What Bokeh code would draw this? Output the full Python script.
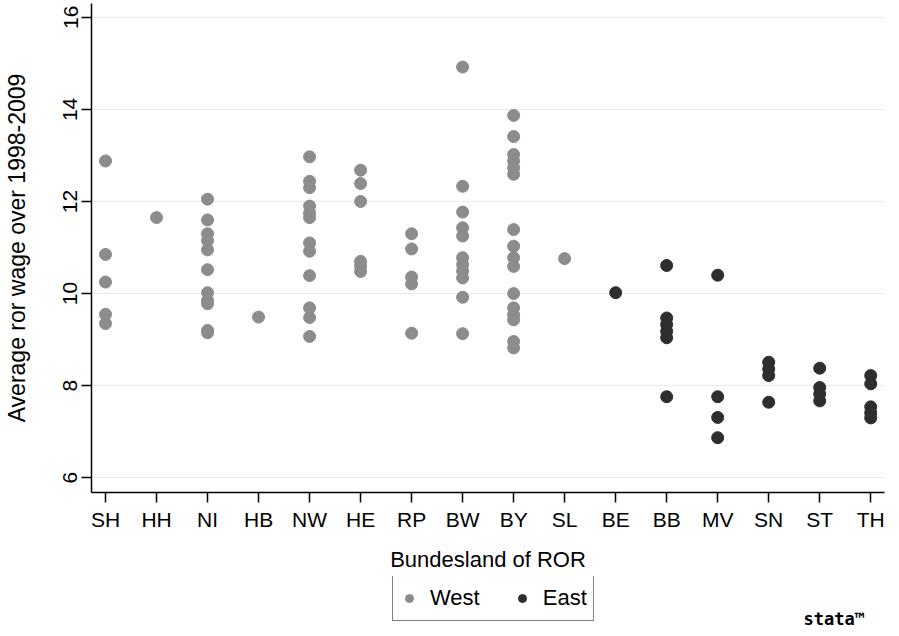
from bokeh.plotting import figure
from bokeh.models import (ColumnDataSource, Range1d, FixedTicker, Legend, LegendItem, Label)
from bokeh.layouts import column
from bokeh.embed import file_html
from bokeh.resources import INLINE

# ---- data ----
states = ["SH", "HH", "NI", "HB", "NW", "HE", "RP", "BW", "BY", "SL",
          "BE", "BB", "MV", "SN", "ST", "TH"]
west_states = ["SH", "HH", "NI", "HB", "NW", "HE", "RP", "BW", "BY", "SL"]
east_states = ["BE", "BB", "MV", "SN", "ST", "TH"]

sh = [12.88, 10.85, 10.25, 9.55, 9.35]
hh = [11.65]
ni = [12.05, 11.6, 11.3, 11.15, 10.95, 10.52, 10.02, 9.85, 9.78, 9.2, 9.15]
hb = [9.49]
nw = [12.97, 12.44, 12.3, 11.9, 11.75, 11.65, 11.1, 10.92, 10.39, 9.69, 9.48, 9.07]
he = [12.68, 12.39, 12.0, 10.7, 10.6, 10.48]
rp = [11.3, 10.97, 10.36, 10.21, 9.14]
bw = [14.92, 12.33, 11.77, 11.43, 11.25, 10.78, 10.63, 10.49, 10.34, 9.92, 9.13]
by = [13.87, 13.41, 13.02, 12.88, 12.73, 12.59, 11.39, 11.03, 10.78, 10.59,
      10.0, 9.69, 9.54, 9.43, 8.96, 8.82]
sl = [10.76]
be = [10.02]
bb = [10.61, 9.47, 9.33, 9.18, 9.04, 7.76]
mv = [10.40, 7.76, 7.31, 6.87]
sn = [8.51, 8.36, 8.22, 7.64]
st = [8.38, 7.96, 7.82, 7.67]
th = [8.22, 8.04, 7.54, 7.41, 7.30]

wages = {"SH": sh, "HH": hh, "NI": ni, "HB": hb, "NW": nw, "HE": he, "RP": rp,
         "BW": bw, "BY": by, "SL": sl, "BE": be, "BB": bb, "MV": mv, "SN": sn,
         "ST": st, "TH": th}

y_ticks = [6, 8, 10, 12, 14, 16]

WEST_COLOR = "#8c8c8c"
EAST_COLOR = "#2e2e2e"
FONT = "Liberation Sans"


def build(group):
    xs, ys = [], []
    for s in group:
        for v in wages[s]:
            xs.append(states.index(s) + 1)
            ys.append(v)
    return ColumnDataSource(dict(x=xs, y=ys))


west_src = build(west_states)
east_src = build(east_states)

# ---- main plot ----
p = figure(width=899, height=576, output_backend="svg", toolbar_location=None,
           title=None,
           x_range=Range1d(0.725, 16.27), y_range=Range1d(5.68, 16.3),
           min_border_left=91, min_border_right=15, min_border_top=3,
           min_border_bottom=84)
p.outline_line_color = None
p.background_fill_color = "white"
p.border_fill_color = "white"

p.scatter(x="x", y="y", source=west_src, size=12, marker="circle",
          fill_color=WEST_COLOR, line_color=WEST_COLOR)
p.scatter(x="x", y="y", source=east_src, size=12, marker="circle",
          fill_color=EAST_COLOR, line_color=EAST_COLOR)

xa = p.xaxis[0]
xa.ticker = FixedTicker(ticks=list(range(1, len(states) + 1)))
xa.major_label_overrides = {i + 1: s for i, s in enumerate(states)}
xa.axis_label = "Bundesland of ROR"
xa.minor_tick_line_color = None
xa.major_tick_in = 0
xa.major_tick_out = 10
xa.major_label_standoff = 5
xa.axis_label_standoff = 13
xa.major_label_text_font = FONT
xa.major_label_text_font_size = "21px"
xa.major_label_text_color = "black"
xa.axis_label_text_font = FONT
xa.axis_label_text_font_size = "22px"
xa.axis_label_text_font_style = "normal"
xa.axis_label_text_color = "black"
xa.axis_line_width = 1.5
xa.axis_line_color = "black"
xa.major_tick_line_color = "black"
xa.major_tick_line_width = 1.5

ya = p.yaxis[0]
ya.ticker = FixedTicker(ticks=y_ticks)
ya.axis_label = "Average ror wage over 1998-2009"
ya.minor_tick_line_color = None
ya.major_tick_in = 0
ya.major_tick_out = 10
ya.major_label_orientation = "vertical"
ya.major_label_standoff = 4
ya.axis_label_standoff = 31
ya.major_label_text_font = FONT
ya.major_label_text_font_size = "21px"
ya.major_label_text_color = "black"
ya.axis_label_text_font = FONT
ya.axis_label_text_font_size = "23px"
ya.axis_label_text_font_style = "normal"
ya.axis_label_text_color = "black"
ya.axis_line_width = 1.5
ya.axis_line_color = "black"
ya.major_tick_line_color = "black"
ya.major_tick_line_width = 1.5

p.xgrid.grid_line_color = None
p.ygrid.grid_line_color = "#e4eef0"
p.ygrid.grid_line_width = 1.2

# ---- legend strip below the plot ----
q = figure(width=899, height=60, output_backend="svg", toolbar_location=None,
           title=None, x_axis_type=None, y_axis_type=None,
           x_range=Range1d(0, 1), y_range=Range1d(0, 1),
           min_border_left=0, min_border_right=0, min_border_top=0,
           min_border_bottom=0)
q.outline_line_color = None
q.grid.visible = False
q.background_fill_color = "white"
q.border_fill_color = "white"

kw = q.scatter(x="x", y="y", source=west_src, marker="circle",
               fill_color=WEST_COLOR, line_color=WEST_COLOR, visible=False)
ke = q.scatter(x="x", y="y", source=east_src, marker="circle",
               fill_color=EAST_COLOR, line_color=EAST_COLOR, visible=False)

legend = Legend(items=[LegendItem(label="West", renderers=[kw]),
                       LegendItem(label="East", renderers=[ke])],
                orientation="horizontal", location=(301, 15),
                padding=6, spacing=32, glyph_width=20, glyph_height=32,
                label_height=32, label_standoff=11, margin=0,
                label_text_font=FONT, label_text_font_size="22px",
                label_text_color="black",
                border_line_color="black", border_line_width=1.5,
                background_fill_color="white", background_fill_alpha=1.0,
                inactive_fill_alpha=0.0)
q.add_layout(legend, "center")

logo = Label(x=712, y=8, x_units="screen", y_units="screen",
             text="stata™", text_font="DejaVu Sans Mono",
             text_font_size="17px", text_font_style="bold", text_color="black",
             text_baseline="bottom")
q.add_layout(logo)

layout = column(p, q, spacing=0)
open("out.html", "w").write(file_html(layout, INLINE))
